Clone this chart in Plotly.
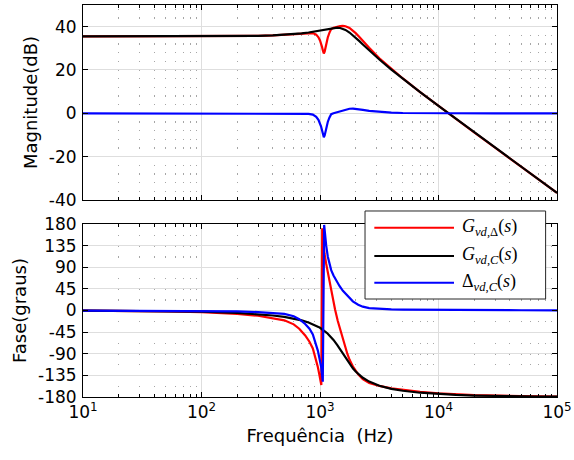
import plotly.graph_objects as go

# ---------------- data ----------------
freq_mag = [10, 20, 50, 100, 200, 300, 400, 500, 600, 700, 800, 870, 929, 970, 1000,
            1020, 1040, 1060, 1077, 1095, 1115, 1140, 1163, 1200, 1243, 1300, 1400,
            1480, 1560, 1640, 1774, 1900, 2000, 2150, 2300, 2600, 3170, 4000, 5000,
            7000, 10000, 14000, 20000, 30000, 50000, 70000, 100000]

mag_black = [35.50, 35.50, 35.51, 35.53, 35.61, 35.75, 35.95, 36.20, 36.51, 36.89, 37.30,
             37.63, 37.91, 38.11, 38.26, 38.36, 38.46, 38.55, 38.64, 38.72, 38.81, 38.92,
             39.02, 39.17, 39.31, 39.45, 39.53, 39.37, 39.02, 38.49, 37.30, 35.99, 34.91,
             33.32, 31.80, 29.07, 24.84, 20.19, 15.93, 9.77, 3.39, -2.53, -8.77, -15.84,
             -24.70, -30.58, -36.77]

mag_blue = [0, 0, 0, 0, 0, 0, 0, 0, -0.05, -0.1, -0.25, -0.6, -1.6, -3.0, -4.6, -6.0, -7.8,
            -9.8, -11.0, -10.2, -8.2, -5.9, -4.0, -2.0, -0.4, 0.05, 0.5, 0.9, 1.3, 1.7, 2.1,
            2.2, 2.1, 1.9, 1.6, 1.15, 0.6, 0.3, 0.15, 0.06, 0.02, 0.01, 0, 0, 0, 0, 0]

mag_red = [35.50, 35.50, 35.51, 35.53, 35.61, 35.75, 35.95, 36.20, 36.46, 36.79, 37.05,
           37.03, 36.31, 35.11, 33.66, 32.36, 30.66, 28.75, 27.64, 28.52, 30.61, 33.02,
           35.02, 37.17, 38.91, 39.50, 40.03, 40.27, 40.32, 40.19, 39.40, 38.19, 37.01,
           35.22, 33.40, 30.22, 25.44, 20.49, 16.08, 9.83, 3.41, -2.52, -8.77, -15.84,
           -24.70, -30.58, -36.77]

phase_black = [-0.25, -0.49, -1.22, -2.46, -4.97, -7.58, -10.37, -13.40, -16.75, -20.55,
               -24.90, -28.35, -31.64, -34.05, -35.96, -37.28, -38.66, -40.08, -41.33,
               -42.69, -44.25, -46.27, -48.21, -51.49, -55.50, -61.16, -71.94, -81.02,
               -90.0, -98.54, -111.15, -120.75, -127.0, -134.38, -140.06, -148.0, -156.58,
               -162.95, -167.0, -171.1, -173.9, -175.7, -177.0, -178.0, -178.8, -179.15,
               -179.4]

freq_ph_red = [10, 20, 50, 100, 200, 300, 400, 500, 600, 668, 750, 815, 870, 929, 960,
               990, 1010, 1026, 1044, 1065, 1092, 1128, 1164, 1202, 1243, 1283, 1340, 1413,
               1510, 1600, 1700, 1774, 1900, 2100, 2296, 2600, 3170, 4000, 5000, 7000,
               10000, 20000, 50000, 100000]
phase_red = [-0.35, -0.7, -1.7, -3.5, -7.0, -10.9, -15.4, -20.4, -28.8, -38, -52, -65, -79,
             -102, -118, -135, -146, -155, 171, 140, 118, 97, 78, 60, 42, 24, 2, -22, -48,
             -70, -90, -102, -117, -133, -143, -151, -157, -162, -165.5, -169.5, -172.5,
             -176, -178.3, -179]

freq_ph_blue = [10, 20, 50, 100, 200, 300, 400, 500, 600, 668, 750, 815, 870, 929, 960,
                990, 1010, 1026, 1040, 1056, 1084, 1100, 1128, 1164, 1200, 1243, 1300, 1371,
                1460, 1560, 1700, 1893, 2100, 2296, 2600, 3170, 4000, 5000, 7000, 10000,
                20000, 50000, 100000]
phase_blue = [-0.1, -0.2, -0.5, -1.0, -2.0, -3.3, -5.0, -7.0, -12, -18, -28, -38, -50, -70,
              -84, -100, -110, -119, -133, -148, 178, 160, 135, 112, 97, 84, 73, 62, 51, 41,
              31, 19, 12, 8, 5, 3.2, 2.3, 1.8, 1.4, 1.1, 0.8, 0.5, 0.4]

series_names = ["<i>G</i><sub><i>vd</i>,Δ</sub>(<i>s</i>)",
                "<i>G</i><sub><i>vd</i>,<i>C</i></sub>(<i>s</i>)",
                "Δ<sub><i>vd</i>,<i>C</i></sub>(<i>s</i>)"]
series_colors = ["#ff0000", "#000000", "#0000ff"]

x_tickvals = [10, 100, 1000, 10000, 100000]
x_ticktext = ["10<sup>1</sup>", "10<sup>2</sup>", "10<sup>3</sup>", "10<sup>4</sup>", "10<sup>5</sup>"]
mag_ticks = [-40, -20, 0, 20, 40]
mag_ticktext = ["-40", "-20", "0", "20", "40"]
phase_ticks = [-180, -135, -90, -45, 0, 45, 90, 135, 180]
phase_ticktext = ["-180", "-135", "-90", "-45", "0", "45", "90", "135", "180"]
minor_x = [m * 10 ** k for k in range(1, 5) for m in range(2, 10)]

# ---------------- figure ----------------
fig = go.Figure()
LW = 2.2
fig.add_trace(go.Scatter(x=freq_mag, y=mag_red, mode="lines", name=series_names[0],
                         line=dict(color=series_colors[0], width=LW), xaxis="x", yaxis="y"))
fig.add_trace(go.Scatter(x=freq_mag, y=mag_black, mode="lines", name=series_names[1],
                         line=dict(color=series_colors[1], width=LW), xaxis="x", yaxis="y"))
fig.add_trace(go.Scatter(x=freq_mag, y=mag_blue, mode="lines", name=series_names[2],
                         line=dict(color=series_colors[2], width=LW), xaxis="x", yaxis="y"))
fig.add_trace(go.Scatter(x=freq_ph_red, y=phase_red, mode="lines", name=series_names[0],
                         line=dict(color=series_colors[0], width=LW), xaxis="x2", yaxis="y2"))
fig.add_trace(go.Scatter(x=freq_mag, y=phase_black, mode="lines", name=series_names[1],
                         line=dict(color=series_colors[1], width=LW), xaxis="x2", yaxis="y2"))
fig.add_trace(go.Scatter(x=freq_ph_blue, y=phase_blue, mode="lines", name=series_names[2],
                         line=dict(color=series_colors[2], width=LW), xaxis="x2", yaxis="y2"))
for tr in fig.data:
    tr.showlegend = False

FONT = "DejaVu Sans, Liberation Sans, sans-serif"
TICKSIZE = 17
TITLESIZE = 18
GRID = "#dedede"
MINORGRID = "#a6a6a6"

def xaxis_cfg(anchor, labels, dash):
    return dict(
        type="log", range=[1, 5], anchor=anchor, domain=[0, 1], automargin=False,
        tickmode="array", tickvals=x_tickvals, ticktext=x_ticktext,
        showticklabels=labels, ticks="inside", ticklen=5, tickcolor="#000",
        showline=True, linecolor="#000", linewidth=1, mirror="allticks",
        showgrid=True, gridcolor=GRID, gridwidth=1, zeroline=False,
        minor=dict(tickmode="array", tickvals=minor_x, ticks="inside", ticklen=3,
                   tickcolor="#000", showgrid=True, gridcolor=MINORGRID,
                   griddash=dash, gridwidth=1),
        tickfont=dict(family=FONT, size=TICKSIZE, color="#000"),
    )

def yaxis_cfg(anchor, dom, rng, ticks, ticktext, title):
    return dict(
        anchor=anchor, domain=dom, range=rng, tickmode="array", tickvals=ticks,
        ticktext=ticktext, automargin=False, ticklabelstandoff=2,
        ticks="inside", ticklen=5, tickcolor="#000",
        showline=True, linecolor="#000", linewidth=1, mirror="allticks",
        showgrid=True, gridcolor=GRID, gridwidth=1, zeroline=False,
        tickfont=dict(family=FONT, size=TICKSIZE, color="#000"),
        title=dict(text=title, font=dict(family=FONT, size=TITLESIZE, color="#000"),
                   standoff=6),
    )

fig.update_layout(
    width=574, height=460,
    margin=dict(l=83, r=17, t=5, b=63, autoexpand=False),
    paper_bgcolor="white", plot_bgcolor="white",
    showlegend=False,
    xaxis=xaxis_cfg("y", False, "0px,3.73px,1.2px,3.74px"),
    yaxis=yaxis_cfg("x", [0.5026, 1.0], [-40, 50], mag_ticks, mag_ticktext, "Magnitude(dB)"),
    xaxis2=dict(xaxis_cfg("y2", True, "1.2px,9.58px"),
                title=dict(text="Frequência  (Hz)",
                           font=dict(family=FONT, size=TITLESIZE, color="#000"), standoff=7)),
    yaxis2=yaxis_cfg("x2", [0.0, 0.4413], [-180, 180], phase_ticks, phase_ticktext,
                     "Fase(graus)"),
)

# ---------------- legend (drawn box, like the MATLAB one) ----------------
lg_x0, lg_x1, lg_y0, lg_y1 = 0.595, 0.976, 0.25, 0.4745
fig.add_shape(type="rect", xref="paper", yref="paper", x0=lg_x0, x1=lg_x1, y0=lg_y0, y1=lg_y1,
              fillcolor="white", line=dict(color="#262626", width=1), layer="above")
entry_y = [0.4319, 0.3597, 0.2916]
for name, col, yy in zip(series_names, series_colors, entry_y):
    fig.add_shape(type="line", xref="paper", yref="paper", x0=0.6146, x1=0.7827, y0=yy, y1=yy,
                  line=dict(color=col, width=2), layer="above")
    fig.add_annotation(xref="paper", yref="paper", x=0.7954, y=yy, text=name, showarrow=False,
                       xanchor="left", yanchor="middle",
                       font=dict(family="Liberation Serif, Times New Roman, serif", size=18,
                                 color="#000"))

fig.write_html("out.html", config={"displayModeBar": False},
               post_script="document.body.style.margin='0';")
